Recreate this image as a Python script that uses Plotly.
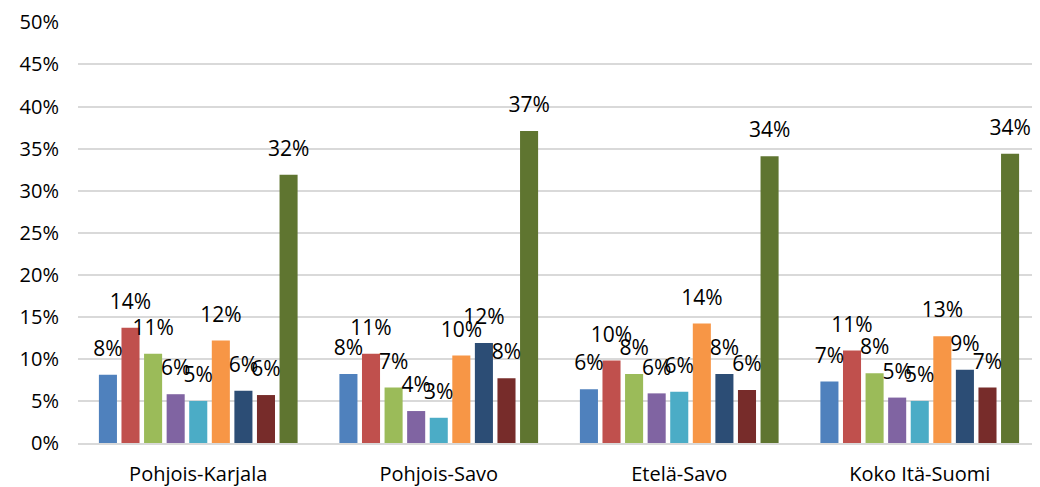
import plotly.graph_objects as go

# ── data ────────────────────────────────────────────────────────────────
regions = ["Pohjois-Karjala", "Pohjois-Savo", "Etelä-Savo", "Koko Itä-Suomi"]

s1 = [0.081, 0.082, 0.064, 0.073]
s2 = [0.137, 0.106, 0.098, 0.110]
s3 = [0.106, 0.066, 0.082, 0.083]
s4 = [0.058, 0.038, 0.059, 0.054]
s5 = [0.050, 0.030, 0.061, 0.050]
s6 = [0.122, 0.104, 0.142, 0.127]
s7 = [0.062, 0.119, 0.082, 0.087]
s8 = [0.057, 0.077, 0.063, 0.066]
s9 = [0.319, 0.371, 0.341, 0.344]

series = [s1, s2, s3, s4, s5, s6, s7, s8, s9]
colors = ["#4F81BD", "#C0504D", "#9BBB59", "#8064A2", "#4BACC6",
          "#F79646", "#2C4D75", "#772C2A", "#5F7530"]

y_ticks = [0, 0.05, 0.10, 0.15, 0.20, 0.25, 0.30, 0.35, 0.40, 0.45, 0.50]

FONT = "Open Sans"
GRID = "#D9D9D9"

fig = go.Figure()

for vals, col in zip(series, colors):
    fig.add_trace(go.Bar(
        x=regions, y=vals,
        marker=dict(color=col, line=dict(width=0)),
        hoverinfo="skip",
        showlegend=False,
    ))

# value labels: invisible markers so the text sits a bit above the bar top
for vals in series:
    fig.add_trace(go.Scatter(
        x=regions, y=vals,
        mode="markers+text",
        marker=dict(size=20, color="rgba(0,0,0,0)"),
        text=[f"{v:.0%}" for v in vals],
        textposition="top center",
        textfont=dict(family=FONT, size=21, color="#000000"),
        hoverinfo="skip",
        showlegend=False,
        cliponaxis=False,
    ))

# page body has an 8px margin, so the figure is a bit smaller than the window
fig.update_layout(
    width=1032, height=479,
    margin=dict(l=70, r=0, t=7, b=44),
    paper_bgcolor="white",
    plot_bgcolor="white",
    barmode="group",
    bargap=0.155,
    bargroupgap=0.2,
    scattermode="group",
    scattergap=0.155,
    font=dict(family=FONT, size=20, color="#000000"),
    xaxis=dict(
        showgrid=False,
        showline=True, linecolor=GRID, linewidth=2,
        ticks="", ticklabelstandoff=12,
        tickfont=dict(size=20),
    ),
    yaxis=dict(
        range=[0, 0.5005],
        tickvals=y_ticks,
        tickformat=".0%",
        showgrid=True, gridcolor=GRID, gridwidth=1.5,
        zeroline=False,
        ticks="", ticklabelstandoff=18,
        ticklabeloverflow="allow",
        tickfont=dict(size=20),
    ),
)

fig.write_html("out.html")
